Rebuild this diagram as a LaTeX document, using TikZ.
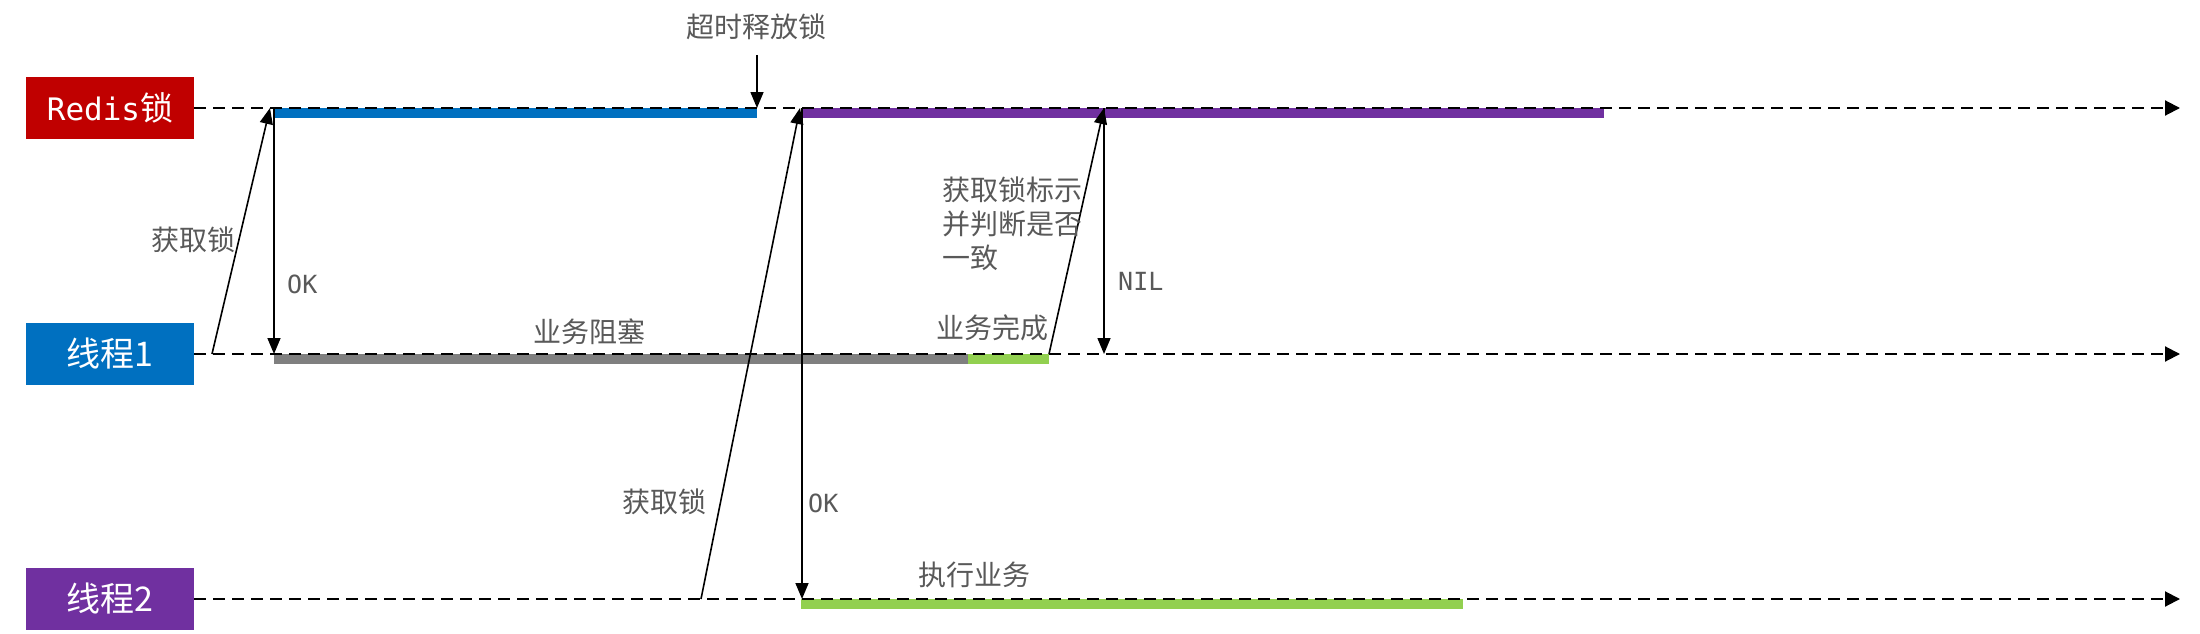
\documentclass[tikz,border=0pt]{standalone}
\usepackage{fontspec}
\setmainfont{Noto Sans CJK SC}
\newfontfamily\monofnt{DejaVu Sans Mono}
\usetikzlibrary{arrows.meta}
\definecolor{redisred}{HTML}{C00000}
\definecolor{tblue}{HTML}{0070C0}
\definecolor{tpurple}{HTML}{7030A0}
\definecolor{tgreen}{HTML}{92D050}
\definecolor{tgray}{HTML}{7F7F7F}
\definecolor{labelgray}{HTML}{595959}
\begin{document}
\begin{tikzpicture}[x=1pt,y=-1pt,
  lane/.style={draw=black, line width=2pt, dash pattern=on 12pt off 7pt, -{Triangle[length=15pt,width=15pt]}},
  msg/.style={draw=black, line width=1.6pt, -{Triangle[length=16pt,width=13pt]}},
  lanebox/.style={minimum width=168pt, minimum height=62pt, inner sep=0pt, text=white, font=\fontsize{34}{40}\selectfont},
  lbl/.style={text=labelgray, font=\fontsize{28}{34}\selectfont, inner sep=0pt},
  mlbl/.style={text=labelgray, font=\monofnt\fontsize{25}{30}\selectfont, inner sep=0pt, anchor=west}
]
\useasboundingbox (0,0) rectangle (2200,634);

% lane boxes
\node[lanebox, fill=redisred] (redis) at (110,108) {{\monofnt\fontsize{31}{36}\selectfont Redis}{\fontsize{33}{36}\selectfont 锁}};
\node[lanebox, fill=tblue] (t1) at (110,354) {线程1};
\node[lanebox, fill=tpurple] (t2) at (110,599) {线程2};

% bars
\fill[tblue] (274,108) rectangle (757,118);
\fill[tpurple] (803,108) rectangle (1604,118);
\fill[tgray] (274,354) rectangle (968,364);
\fill[tgreen] (968,354) rectangle (1049,364);
\fill[tgreen] (801,599) rectangle (1463,609);

% lane end coordinates
\coordinate (redisE) at (2180,108);
\coordinate (t1E) at (2180,354);
\coordinate (t2E) at (2180,599);
\draw[lane] (redis.east) -- (redisE);
\draw[lane] (t1.east) -- (t1E);
\draw[lane] (t2.east) -- (t2E);

% message points
\coordinate (a1s) at (212,354);
\coordinate (a1e) at (270,108);
\coordinate (ok1s) at (274,108);
\coordinate (ok1e) at (274,354);
\coordinate (tos) at (757,55);
\coordinate (toe) at (757,108);
\coordinate (a2s) at (701,599);
\coordinate (a2e) at (800,108);
\coordinate (ok2s) at (802,108);
\coordinate (ok2e) at (802,599);
\coordinate (a3s) at (1049,354);
\coordinate (a3e) at (1104,108);
\coordinate (nils) at (1104,108);
\coordinate (nile) at (1104,354);

\draw[msg] (a1s) -- (a1e);
\draw[msg] (ok1s) -- (ok1e);
\draw[msg] (tos) -- (toe);
\draw[msg] (a2s) -- (a2e);
\draw[msg] (ok2s) -- (ok2e);
\draw[msg] (a3s) -- (a3e);
\draw[msg] (nils) -- (nile);

% labels
\node[lbl] (lto) at (756,27) {超时释放锁};
\node[lbl] (lget1) at (193,240) {获取锁};
\node[mlbl] (lok1) at (287,284) {OK};
\node[lbl] (lblock) at (589,332) {业务阻塞};
\node[lbl] (ldone) at (992,328) {业务完成};
\node[lbl, align=left, anchor=west] (lcheck) at (942,224) {获取锁标示\\并判断是否\\一致};
\node[mlbl] (lnil) at (1118,281) {NIL};
\node[lbl] (lget2) at (664,502) {获取锁};
\node[mlbl] (lok2) at (808,503) {OK};
\node[lbl] (lexec) at (974,575) {执行业务};
\end{tikzpicture}
\end{document}
